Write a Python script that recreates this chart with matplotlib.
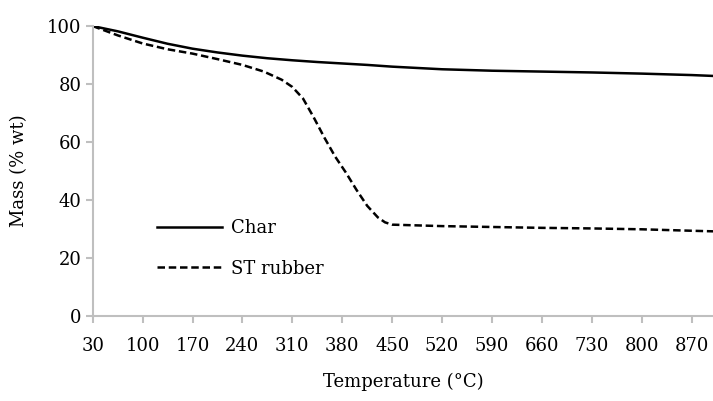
import matplotlib
matplotlib.use("Agg")
from matplotlib import pyplot as plt

plt.rcParams['font.family'] = ['DejaVu Serif']

temp = [30, 65, 100, 135, 170, 205, 240, 275, 310, 345, 380, 415, 450, 520, 590, 660, 730, 800, 870, 900]
char = [100, 98.2, 96.0, 93.9, 92.2, 90.9, 89.8, 88.9, 88.2, 87.6, 87.1, 86.6, 86.0, 85.1, 84.6, 84.3, 84.0, 83.6, 83.1, 82.8]

temp_st = [30, 65, 100, 135, 170, 205, 240, 270, 295, 310, 325, 340, 355, 370, 385, 400, 415, 430, 440, 450,
           520, 590, 660, 730, 800, 870, 900]
st_rubber = [100, 96.8, 94.0, 92.0, 90.5, 88.6, 86.6, 84.3, 81.5, 79.0, 75.0, 68.5, 61.5, 55.0, 49.5, 43.5, 38.0, 34.0, 32.3, 31.5,
             31.0, 30.7, 30.4, 30.2, 29.9, 29.4, 29.2]

xticks = [30, 100, 170, 240, 310, 380, 450, 520, 590, 660, 730, 800, 870]
yticks = [0, 20, 40, 60, 80, 100]

fig = plt.figure(figsize=(7.13, 4.01), dpi=100)
ax = fig.add_axes([0.130, 0.212, 0.870, 0.723])

ax.plot(temp, char, color="black", lw=1.8, label="Char")
ax.plot(temp_st, st_rubber, color="black", lw=1.8, ls=(0, (3.0, 1.5)), label="ST rubber")

ax.set_xlim(30, 900)
ax.set_ylim(0, 100)
ax.set_xticks(xticks)
ax.set_yticks(yticks)

for side in ["top", "right"]:
    ax.spines[side].set_visible(False)
for side in ["left", "bottom"]:
    ax.spines[side].set_color("#bfbfbf")
    ax.spines[side].set_linewidth(1.5)
ax.tick_params(axis="both", colors="#bfbfbf", length=5, width=1.5, labelsize=13, labelcolor="black")
ax.tick_params(axis="x", pad=10)
ax.tick_params(axis="y", pad=3)

ax.set_xlabel("Temperature (°C)", fontsize=13, labelpad=13)
ax.set_ylabel("Mass (% wt)", fontsize=13, labelpad=14)

ax.legend(loc="upper left", bbox_to_anchor=(0.078, 0.39), frameon=False, fontsize=13,
          handlelength=3.6, handletextpad=0.5, labelspacing=1.25)

fig.savefig("out.png", dpi=100)
